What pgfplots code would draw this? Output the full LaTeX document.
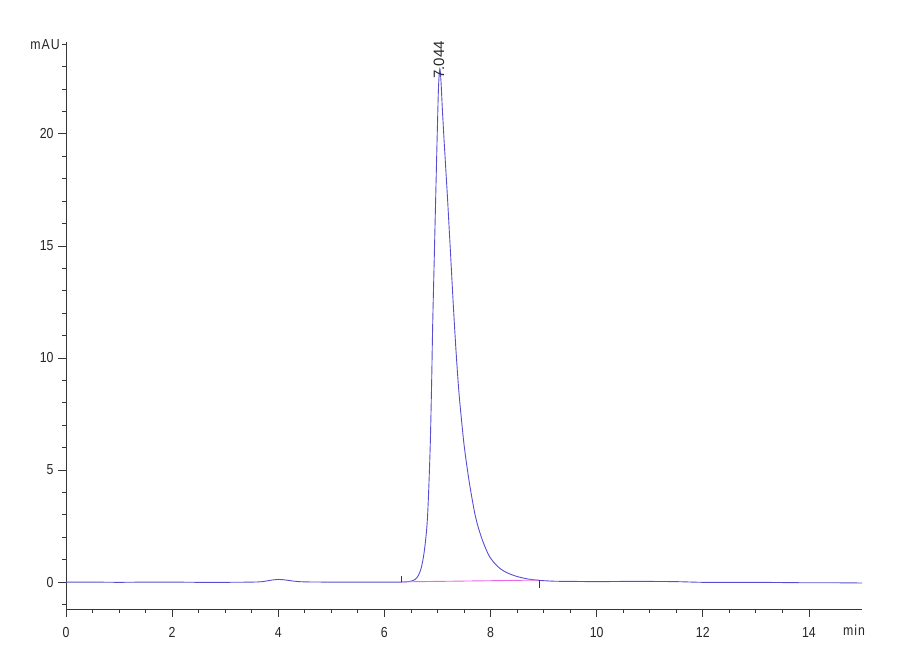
\documentclass[border=0pt]{standalone}
\usepackage{fontspec}
\setmainfont{Liberation Sans}
\newfontfamily\narrow{Liberation Sans}[FakeStretch=0.85]
\usepackage{pgfplots}
\pgfplotsset{compat=1.18}

\definecolor{trace}{RGB}{88,78,212}
\definecolor{basel}{RGB}{232,104,232}
\definecolor{axgray}{RGB}{55,55,55}

\begin{document}
\begin{tikzpicture}
\useasboundingbox (-66pt,-51pt) rectangle (834pt,609pt);
\begin{axis}[
  at={(0pt,0pt)}, anchor=south west,
  scale only axis, width=796pt, height=567pt,
  xmin=0, xmax=15, ymin=-1.2, ymax=24.1,
  axis lines=left, axis line style={-, axgray, line width=0.9pt},
  tick align=outside, tick style={axgray, line width=0.8pt},
  major tick length=8pt, minor tick length=4pt,
  xtick={0,2,...,14}, minor x tick num=3,
  ytick={0,5,...,20}, minor ytick={-1,1,2,3,4,6,7,8,9,11,12,13,14,16,17,18,19,21,22,23,24},
  /pgf/number format/assume math mode=true,
  ticklabel style={font=\fontsize{14.5}{16}\selectfont\narrow, text=black!85},
  xticklabel style={yshift=-7pt},
  yticklabel style={xshift=-1pt},
  clip=false,
]
% small bump near 4 min and main peak
\addplot[trace, line width=0.9pt, smooth, tension=0.5] coordinates {
  (0,0.0) (0.5,0.0) (1,-0.01) (1.5,0.0) (2,0.0) (2.5,-0.01) (3,-0.01) (3.5,0.0)
  (3.7,0.02) (3.85,0.08) (4.0,0.12) (4.15,0.09) (4.3,0.04) (4.5,0.01) (5,0.0)
  (5.5,0.0) (6,0.0) (6.3,0.0) (6.45,0.02) (6.55,0.08) (6.62,0.22) (6.69,0.6)
  (6.75,1.35) (6.81,2.8) (6.86,5.8) (6.89,8.9) (6.91,11.5) (6.94,14.5)
  (6.97,17.5) (7.0,20.4) (7.02,22.1) (7.044,22.9) (7.065,22.4) (7.09,21.2)
  (7.12,19.9) (7.15,18.7) (7.19,17.1) (7.22,15.8) (7.25,14.5) (7.3,12.3)
  (7.35,10.3) (7.4,8.6) (7.45,7.3) (7.5,6.15) (7.55,5.25) (7.6,4.45)
  (7.65,3.75) (7.7,3.1) (7.75,2.6) (7.8,2.2) (7.85,1.85) (7.9,1.55)
  (7.95,1.28) (8.0,1.07) (8.1,0.78) (8.2,0.57) (8.3,0.43) (8.4,0.33)
  (8.5,0.25) (8.6,0.19) (8.7,0.14) (8.8,0.11) (8.9,0.08)
  (9.2,0.04) (9.6,0.03) (10,0.02) (10.5,0.03) (11,0.03) (11.5,0.02)
  (12,-0.01) (12.5,-0.01) (13,-0.01) (13.5,-0.02) (14,-0.03) (14.5,-0.03) (15,-0.04)
};
% integration baseline
\addplot[basel, line width=0.9pt] coordinates {(6.31,0.01) (8.91,0.09)};
% integration event marks
\addplot[axgray, line width=0.6pt] coordinates {(6.31,0.0) (6.31,0.25)};
\addplot[axgray, line width=0.6pt] coordinates {(8.91,0.09) (8.91,-0.25)};
\node[rotate=90, anchor=west, inner sep=0pt, font=\fontsize{15}{17}\selectfont, text=black!85]
  at (axis cs:7.03,22.45) {7.044};
\end{axis}
\node[font=\fontsize{14.5}{16}\selectfont\narrow, text=black!85] at (-21pt,564pt) {m\kern1ptA\kern1ptU};
\node[font=\fontsize{14.5}{16}\selectfont\narrow, text=black!85] at (788pt,-21pt) {m\kern1pti\kern1ptn};
\end{tikzpicture}
\end{document}
